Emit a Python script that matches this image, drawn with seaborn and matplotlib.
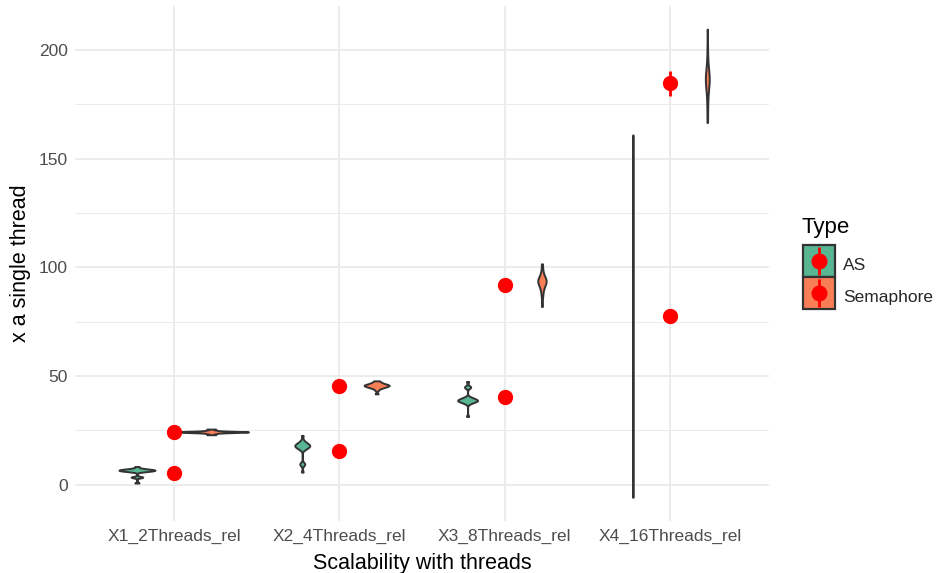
import matplotlib
matplotlib.use("Agg")
import matplotlib.pyplot as plt
import seaborn as sns
import numpy as np
import pandas as pd
from matplotlib.lines import Line2D
from matplotlib.legend_handler import HandlerTuple

# Kategoriler (x ekseni)
categories = ["X1_2Threads_rel", "X2_4Threads_rel", "X3_8Threads_rel", "X4_16Threads_rel"]
types = ["AS", "Semaphore"]

# Her grup icin olcumler (resimden okunan tahmini degerler)
as_x1 = [0.8, 3.35, 3.5, 3.65, 5.95, 6.1, 6.25, 6.35, 6.45, 6.55, 6.6, 6.7, 6.8, 6.85,
         6.95, 7.05, 7.15, 7.3, 7.6, 8.4]
as_x2 = [5.8, 9.2, 9.5, 9.8, 16.2, 16.6, 16.9, 17.2, 17.5, 17.7, 17.9, 18.0, 18.2,
         18.4, 18.6, 18.9, 19.2, 19.6, 20.4, 22.7]
as_x3 = [31.4, 37.3, 37.7, 38.0, 38.25, 38.45, 38.6, 38.7, 38.8, 38.9, 39.05, 39.25,
         39.45, 39.7, 40.0, 40.4, 44.6, 44.9, 45.2, 47.5]
as_x4 = [-5.8, 5, 15, 25, 35, 45, 55, 62, 70, 77, 83, 90, 98, 106, 115, 124, 133,
         142, 151, 160.9]

sem_x1 = [23.0, 23.5, 23.8, 23.95, 24.05, 24.1, 24.15, 24.2, 24.25, 24.3, 24.3, 24.35,
          24.4, 24.45, 24.5, 24.55, 24.65, 24.8, 25.1, 25.6]
sem_x2 = [41.8, 43.5, 44.3, 44.6, 44.8, 45.0, 45.2, 45.3, 45.5, 45.6, 45.7, 45.8, 45.9,
          46.0, 46.2, 46.4, 46.6, 46.9, 47.3, 47.8]
sem_x3 = [82.0, 86.5, 88.5, 89.8, 90.8, 91.5, 92.0, 92.5, 93.0, 93.3, 93.6, 93.9, 94.2,
          94.6, 95.0, 95.5, 96.2, 97.2, 98.8, 101.6]
sem_x4 = [166.6, 172, 176, 179, 181, 182.5, 183.5, 184.5, 185.5, 186.2, 186.8, 187.4,
          188, 189, 190, 191.5, 193, 196, 201, 209.5]

# Kirmizi noktalar: ortalamalar ve hata cubuklari
as_means = [5.5, 15.6, 40.5, 77.5]
as_err = [0.5, 1.0, 1.0, 0.0]
sem_means = [24.2, 45.4, 92.0, 184.6]
sem_err = [0.3, 0.5, 1.0, 5.7]

colors = {"AS": "#58B792", "Semaphore": "#F87E56"}


def bw_nrd0(kde):
    # R'daki bw.nrd0 (ggplot2 varsayilani) -> gaussian_kde faktorune cevir
    x = kde.dataset.ravel()
    sd = x.std(ddof=1)
    q75, q25 = np.percentile(x, [75, 25])
    bw = 0.9 * min(sd, (q75 - q25) / 1.34) * len(x) ** -0.2
    return bw / sd


rows = []
for cat, vals in zip(categories, [as_x1, as_x2, as_x3, as_x4]):
    rows += [(cat, "AS", v) for v in vals]
for cat, vals in zip(categories, [sem_x1, sem_x2, sem_x3, sem_x4]):
    rows += [(cat, "Semaphore", v) for v in vals]
df = pd.DataFrame(rows, columns=["Threads", "Type", "Value"])

sns.set_theme(style="whitegrid")
plt.rcParams["font.family"] = ["Liberation Sans", "DejaVu Sans"]

fig = plt.figure(figsize=(9.37, 5.73), dpi=100)
ax = fig.add_axes([0.080, 0.091, 0.741, 0.899])

sns.violinplot(data=df, x="Threads", y="Value", hue="Type", order=categories,
               hue_order=types, palette=colors, width=0.9, cut=0, inner=None,
               density_norm="area", common_norm=True, bw_method=bw_nrd0,
               gridsize=512, saturation=1, linewidth=1.4, linecolor="#333333",
               legend=False, ax=ax)

# Ortalama noktalari (dodge yok, kategori merkezinde)
xpos = list(range(len(categories)))
for means, err in [(as_means, as_err), (sem_means, sem_err)]:
    ax.errorbar(xpos, means, yerr=err, fmt="o", color="red", markersize=10,
                elinewidth=2, capsize=0, zorder=5)

ax.set_xlim(-0.6, 3.6)
ax.set_ylim(-16.6, 220.3)
ax.set_yticks([0, 50, 100, 150, 200])
ax.set_yticks([25, 75, 125, 175], minor=True)

# theme_minimal gorunumu
ax.set_facecolor("white")
for s in ax.spines.values():
    s.set_visible(False)
ax.grid(True, which="major", color="#EBEBEB", linewidth=1.3)
ax.grid(True, which="minor", axis="y", color="#EBEBEB", linewidth=0.7)
ax.set_axisbelow(True)
ax.tick_params(axis="both", which="both", length=0, labelsize=12.5,
               labelcolor="#4D4D4D")
ax.tick_params(axis="x", pad=6)
ax.tick_params(axis="y", pad=5)

ax.set_xlabel("Scalability with threads", fontsize=15.5, color="black", labelpad=6)
ax.set_ylabel("x a single thread", fontsize=15.5, color="black", labelpad=6)

# Lejant: renkli kare + kirmizi nokta ve dikey cizgi (hepsi ayni merkezde)
handles = []
for t in types:
    handles.append((Line2D([], [], marker="s", markersize=23.5, linestyle="None",
                           markerfacecolor=colors[t], markeredgecolor="#333333",
                           markeredgewidth=1.6),
                    Line2D([], [], color="red", marker="|", markersize=19.5,
                           markeredgewidth=2, linestyle="None"),
                    Line2D([], [], color="red", marker="o", markersize=10.5,
                           linestyle="None")))
fig.legend(handles, types, loc="upper left", bbox_to_anchor=(0.8435, 0.581),
           frameon=False, fontsize=12.5,
           handler_map={tuple: HandlerTuple(ndivide=1, pad=0)},
           handlelength=1.9, handleheight=1.85, labelspacing=0.35,
           handletextpad=0.45, borderpad=0.2)
# Lejant basligi
fig.text(0.8555, 0.5934, "Type", fontsize=16, color="black", ha="left", va="baseline")

plt.savefig("out.png", dpi=100)
plt.close()
